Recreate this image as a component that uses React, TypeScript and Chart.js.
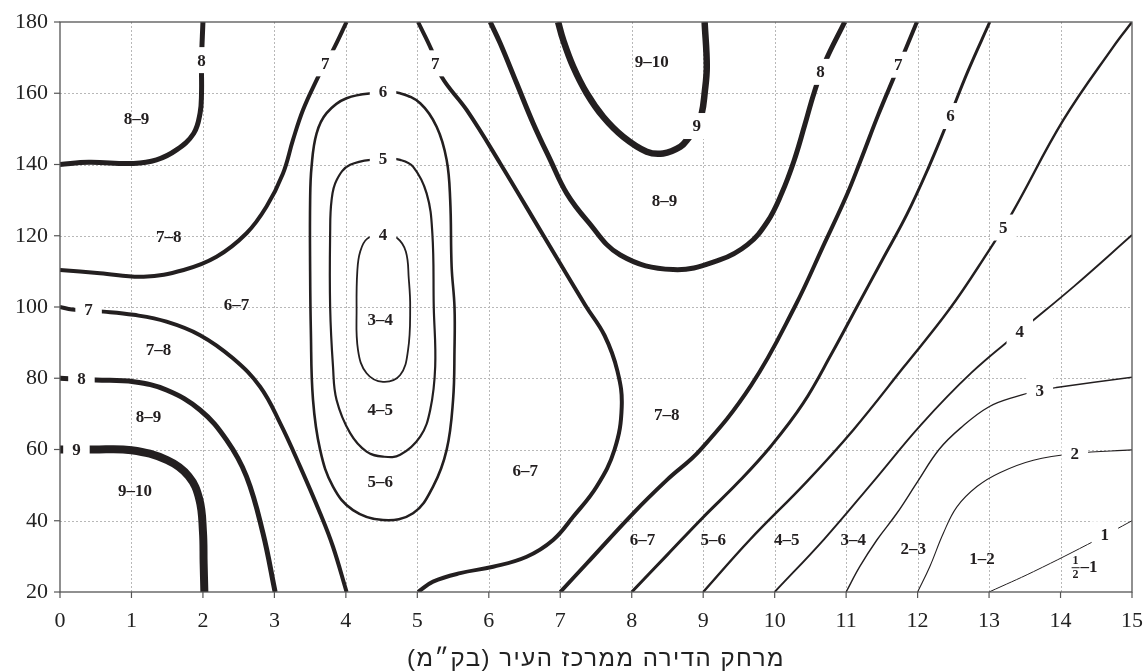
import React, { useEffect, useRef } from "react";
import { Chart, registerables } from "chart.js";

Chart.register(...registerables);

type P = [number, number];

// ---- axis ticks ----
const xTickValues = [0, 1, 2, 3, 4, 5, 6, 7, 8, 9, 10, 11, 12, 13, 14, 15];
const yTickValues = [20, 40, 60, 80, 100, 120, 140, 160, 180];
const xTitle = "מרחק הדירה ממרכז העיר (בק״מ)";

// ---- contour lines (x in km, y value) ----
const c9Low: P[] = [[0, 60], [0.45, 60], [1.0, 59.8], [1.5, 57], [1.8, 52.5], [1.95, 46], [2.0, 37], [2.01, 28], [2.02, 20]];
const c8Low: P[] = [[0, 80], [0.5, 79.5], [1.03, 79], [1.49, 76.7], [1.96, 71.1], [2.33, 62.7], [2.61, 52.4], [2.84, 36.5], [3.01, 20]];
const c7Low: P[] = [[0, 100], [0.17, 99.3], [0.61, 98.7], [1.03, 97.8], [1.49, 95.9], [1.96, 92.1], [2.42, 85.6], [2.8, 77.6], [3.08, 67.4], [3.36, 55.2], [3.64, 42.1], [3.82, 32.7], [4.01, 20]];
const c8Up: P[] = [[0, 140], [0.4, 140.6], [1.03, 140.3], [1.35, 141.3], [1.63, 144.1], [1.87, 148.7], [1.96, 154.4], [1.98, 160], [1.98, 169], [2.0, 180]];
const c7Up: P[] = [[0, 110.4], [0.56, 109.5], [1.17, 108.5], [1.73, 110.4], [2.19, 114.1], [2.61, 120.7], [2.89, 128.2], [3.12, 137.5], [3.26, 146.9], [3.4, 155.3], [3.59, 163.7], [3.71, 168.4], [3.82, 172.1], [4.01, 180]];
const c7Mid: P[] = [[5.01, 180], [5.2, 172.1], [5.34, 164.6], [5.69, 155.3], [6.16, 140.3], [6.76, 120.2], [7.35, 100.5], [7.62, 92], [7.8, 82], [7.86, 72], [7.76, 60], [7.51, 49.6], [7.18, 41.1], [6.9, 34.6], [6.53, 29.9], [6.06, 27.1], [5.6, 25.3], [5.22, 22.9], [5.01, 20]];
const c6Oval: P[] = [[4.52, 160.4], [4.01, 158.6], [3.73, 154.4], [3.59, 148.7], [3.52, 139.4], [3.5, 130], [3.5, 110], [3.51, 93.5], [3.54, 74], [3.64, 59.9], [3.82, 49.6], [4.1, 43], [4.52, 40.2], [4.94, 42.1], [5.22, 49.6], [5.41, 59.9], [5.5, 73.9], [5.52, 88], [5.52, 100], [5.48, 111.3], [5.46, 130], [5.41, 141.3], [5.27, 150.6], [5.04, 157.2], [4.76, 160], [4.52, 160.4]];
const c5Oval: P[] = [[4.52, 141.8], [4.06, 139.9], [3.87, 135.6], [3.8, 130], [3.78, 120.7], [3.78, 100], [3.82, 83.3], [3.87, 73.9], [4.06, 64.6], [4.29, 59.4], [4.52, 58], [4.76, 58.5], [5.04, 63.6], [5.18, 71.1], [5.25, 83.3], [5.23, 100], [5.21, 120.7], [5.13, 131.9], [4.94, 139.4], [4.76, 141.3], [4.52, 141.8]];
const c4Oval: P[] = [[4.52, 120.4], [4.3, 119.2], [4.2, 115.5], [4.16, 110], [4.15, 100], [4.17, 87.9], [4.29, 81.4], [4.52, 79], [4.76, 80.9], [4.87, 87.9], [4.9, 100], [4.88, 108], [4.84, 115.5], [4.72, 119.3], [4.52, 120.4]];
const c9Top: P[] = [[6.97, 180], [7.04, 175], [7.18, 167.5], [7.37, 160], [7.6, 153.4], [7.88, 147.8], [8.21, 143.6], [8.44, 143.1], [8.68, 145], [8.79, 147.3], [8.91, 150.8], [8.98, 154.4], [9.02, 160], [9.05, 167.5], [9.02, 180]];
const c8U: P[] = [[6.02, 180], [6.16, 174], [6.39, 162.8], [6.62, 151.6], [6.86, 141.3], [7.09, 131.9], [7.37, 124.4], [7.84, 114.6], [8.58, 110.5], [9.23, 113.2], [9.62, 117.5], [9.9, 124], [10.1, 132], [10.27, 141], [10.42, 151], [10.55, 160], [10.7, 168.5], [10.98, 180]];
const c7Right: P[] = [[7, 20], [7.37, 28], [8.02, 42.1], [8.49, 51.4], [8.96, 59.9], [9.67, 78], [10.28, 100], [10.7, 118], [11.0, 131], [11.2, 141], [11.45, 154], [11.7, 166], [11.99, 180]];
const c6Right: P[] = [[8, 20], [8.5, 30.5], [9.0, 41], [9.5, 51], [9.95, 61], [10.4, 73], [10.8, 87], [11.15, 100], [11.5, 113], [11.85, 126], [12.15, 139], [12.42, 152], [12.7, 166], [13.01, 180]];
const c5Right: P[] = [[9, 20], [9.65, 34.6], [10.45, 51], [11.1, 65.5], [11.8, 83], [12.45, 99.5], [12.97, 115], [13.32, 126.3], [14.04, 152.5], [14.74, 173.1], [15, 180]];
const c4Right: P[] = [[10, 20], [10.7, 35], [11.38, 51], [12.05, 67], [12.75, 81.5], [13.43, 93.1], [14.2, 106], [15, 120.2]];
const c3Right: P[] = [[11, 20], [11.19, 27.1], [11.43, 34.6], [11.71, 42.1], [12.0, 51], [12.3, 60], [12.6, 66], [13.0, 72], [13.4, 75], [13.71, 76.6], [13.94, 77.4], [15, 80.3]];
const c2Right: P[] = [[12, 20], [12.17, 27.1], [12.36, 36.5], [12.55, 43.9], [12.83, 49.6], [13.15, 53.5], [13.62, 57], [14.2, 58.9], [15, 59.9]];
const c1Right: P[] = [[13, 20], [13.62, 25.7], [14.5, 34.6], [15, 40]];

// ---- labels on contour lines ----
const lineLabelText = ["9", "8", "7", "8", "7", "7", "6", "5", "4", "9", "8", "7", "6", "5", "4", "3", "2", "1"];
const lineLabelX = [0.23, 0.3, 0.4, 1.98, 3.71, 5.25, 4.52, 4.52, 4.52, 8.91, 10.64, 11.73, 12.46, 13.2, 13.43, 13.71, 14.2, 14.62];
const lineLabelY = [60, 80, 99.2, 169.3, 168.4, 168.4, 160.4, 141.6, 120.3, 150.8, 166, 168, 153.6, 122.3, 93.1, 76.5, 58.9, 36.2];

// ---- region labels ----
const regionText = ["8–9", "7–8", "6–7", "7–8", "8–9", "9–10", "3–4", "4–5", "5–6", "9–10", "8–9", "7–8", "6–7", "6–7", "5–6", "4–5", "3–4", "2–3", "1–2", "½–1"];
const regionX = [1.07, 1.52, 2.47, 1.38, 1.24, 1.05, 4.48, 4.48, 4.48, 8.28, 8.46, 8.49, 6.51, 8.15, 9.14, 10.17, 11.1, 11.94, 12.9, 14.33];
const regionY = [153, 119.7, 100.6, 87.9, 69.2, 48.6, 96.4, 71.1, 51, 168.9, 130, 69.7, 54.2, 34.6, 34.6, 34.6, 34.6, 32.3, 29.5, 27.1];

const INK = "#231f20";

const contours: { pts: P[]; w: number }[] = [
  { pts: c9Low, w: 8 },
  { pts: c8Low, w: 5 },
  { pts: c7Low, w: 4 },
  { pts: c8Up, w: 5 },
  { pts: c7Up, w: 4 },
  { pts: c7Mid, w: 4 },
  { pts: c6Oval, w: 2.6 },
  { pts: c5Oval, w: 2.2 },
  { pts: c4Oval, w: 1.8 },
  { pts: c9Top, w: 6.5 },
  { pts: c8U, w: 5 },
  { pts: c7Right, w: 4 },
  { pts: c6Right, w: 3 },
  { pts: c5Right, w: 2.4 },
  { pts: c4Right, w: 1.9 },
  { pts: c3Right, w: 1.4 },
  { pts: c2Right, w: 1.1 },
  { pts: c1Right, w: 1.0 },
];

const SERIF = "'Liberation Serif', 'DejaVu Serif', serif";

const decorPlugin = {
  id: "decor",
  beforeDatasetsDraw(chart: any) {
    const { ctx, chartArea: a, scales } = chart;
    const xs = scales.x;
    const ys = scales.y;
    ctx.save();
    ctx.strokeStyle = "#b8b8b8";
    ctx.lineWidth = 1;
    ctx.setLineDash([2, 2]);
    for (const v of xTickValues) {
      if (v === 0 || v === 15) continue;
      const px = Math.round(xs.getPixelForValue(v)) + 0.5;
      ctx.beginPath();
      ctx.moveTo(px, a.top);
      ctx.lineTo(px, a.bottom);
      ctx.stroke();
    }
    for (const v of yTickValues) {
      if (v === 20 || v === 180) continue;
      const py = Math.round(ys.getPixelForValue(v)) + 0.5;
      ctx.beginPath();
      ctx.moveTo(a.left, py);
      ctx.lineTo(a.right, py);
      ctx.stroke();
    }
    ctx.restore();
  },
  afterDatasetsDraw(chart: any) {
    const { ctx, chartArea: a, scales } = chart;
    const xs = scales.x;
    const ys = scales.y;
    ctx.save();
    // frame
    ctx.setLineDash([]);
    ctx.strokeStyle = "#555";
    ctx.lineWidth = 1.3;
    ctx.strokeRect(a.left, a.top, a.right - a.left, a.bottom - a.top);
    // tick marks
    ctx.lineWidth = 1.2;
    for (const v of xTickValues) {
      const px = xs.getPixelForValue(v);
      ctx.beginPath();
      ctx.moveTo(px, a.bottom);
      ctx.lineTo(px, a.bottom + 6);
      ctx.stroke();
    }
    for (const v of yTickValues) {
      const py = ys.getPixelForValue(v);
      ctx.beginPath();
      ctx.moveTo(a.left - 6, py);
      ctx.lineTo(a.left, py);
      ctx.stroke();
    }
    // contour labels with white gaps
    ctx.font = "bold 17px " + SERIF;
    ctx.textAlign = "center";
    ctx.textBaseline = "middle";
    for (let i = 0; i < lineLabelText.length; i++) {
      const px = xs.getPixelForValue(lineLabelX[i]);
      const py = ys.getPixelForValue(lineLabelY[i]);
      const w = ctx.measureText(lineLabelText[i]).width + 18;
      const h = 26;
      ctx.fillStyle = "#ffffff";
      ctx.fillRect(px - w / 2, py - h / 2, w, h);
      ctx.fillStyle = INK;
      ctx.fillText(lineLabelText[i], px, py + 1);
    }
    // region labels
    for (let i = 0; i < regionText.length; i++) {
      const px = xs.getPixelForValue(regionX[i]);
      const py = ys.getPixelForValue(regionY[i]);
      const t = regionText[i];
      ctx.fillStyle = INK;
      ctx.font = "bold 17px " + SERIF;
      if (t.startsWith("½")) {
        const rest = t.slice(1);
        const rw = ctx.measureText(rest).width;
        const fw = 10;
        const total = fw + rw;
        const fx = px - total / 2 + fw / 2;
        ctx.font = "bold 12px " + SERIF;
        ctx.fillText("1", fx, py - 6);
        ctx.fillText("2", fx, py + 8);
        ctx.strokeStyle = INK;
        ctx.lineWidth = 1;
        ctx.beginPath();
        ctx.moveTo(fx - 4, py + 1);
        ctx.lineTo(fx + 4, py + 1);
        ctx.stroke();
        ctx.font = "bold 17px " + SERIF;
        ctx.textAlign = "left";
        ctx.fillText(rest, px - total / 2 + fw, py + 1);
        ctx.textAlign = "center";
      } else {
        ctx.fillText(t, px, py + 1);
      }
    }
    // x-axis title (Hebrew, right-to-left)
    ctx.font = "24px 'Liberation Sans', 'DejaVu Sans', sans-serif";
    (ctx as any).letterSpacing = "1.5px";
    ctx.fillStyle = "#222";
    (ctx as any).direction = "rtl";
    ctx.textAlign = "center";
    ctx.fillText(xTitle, (a.left + a.right) / 2, 659);
    ctx.restore();
  },
};

export default function App() {
  const ref = useRef<HTMLCanvasElement | null>(null);
  useEffect(() => {
    if (!ref.current) return;
    const chart = new Chart(ref.current, {
      type: "scatter",
      data: {
        datasets: contours.map((c, i) => ({
          label: "c" + i,
          data: c.pts.map(([x, y]) => ({ x, y })),
          showLine: true,
          borderColor: INK,
          borderWidth: c.w,
          pointRadius: 0,
          pointHoverRadius: 0,
          tension: 0.4,
          fill: false,
          borderCapStyle: "butt",
          borderJoinStyle: "round",
        })),
      },
      options: {
        responsive: false,
        animation: false,
        devicePixelRatio: 1,
        layout: { padding: { left: 0, right: 15, top: 22, bottom: 0 } },
        plugins: { legend: { display: false }, tooltip: { enabled: false } },
        events: [],
        scales: {
          x: {
            type: "linear",
            min: 0,
            max: 15,
            afterBuildTicks: (s: any) => {
              s.ticks = xTickValues.map((v) => ({ value: v }));
            },
            afterFit: (s: any) => {
              s.height = 79;
              s.paddingLeft = 0;
              s.paddingRight = 0;
            },
            ticks: {
              color: "#222",
              padding: 16,
              maxRotation: 0,
              autoSkip: false,
              font: { family: SERIF, size: 22 },
            },
            grid: { display: false, drawTicks: false },
            border: { display: false },
          },
          y: {
            type: "linear",
            min: 20,
            max: 180,
            afterBuildTicks: (s: any) => {
              s.ticks = yTickValues.map((v) => ({ value: v }));
            },
            afterFit: (s: any) => {
              s.width = 60;
              s.paddingTop = 0;
              s.paddingBottom = 0;
            },
            ticks: {
              color: "#222",
              padding: 12,
              autoSkip: false,
              font: { family: SERIF, size: 22 },
            },
            grid: { display: false, drawTicks: false },
            border: { display: false },
          },
        },
      },
      plugins: [decorPlugin],
    } as any);
    return () => chart.destroy();
  }, []);
  return (
    <div style={{ position: "absolute", left: 0, top: 0, width: 1147, height: 671, background: "#fff" }}>
      <canvas ref={ref} width={1147} height={671} />
    </div>
  );
}
